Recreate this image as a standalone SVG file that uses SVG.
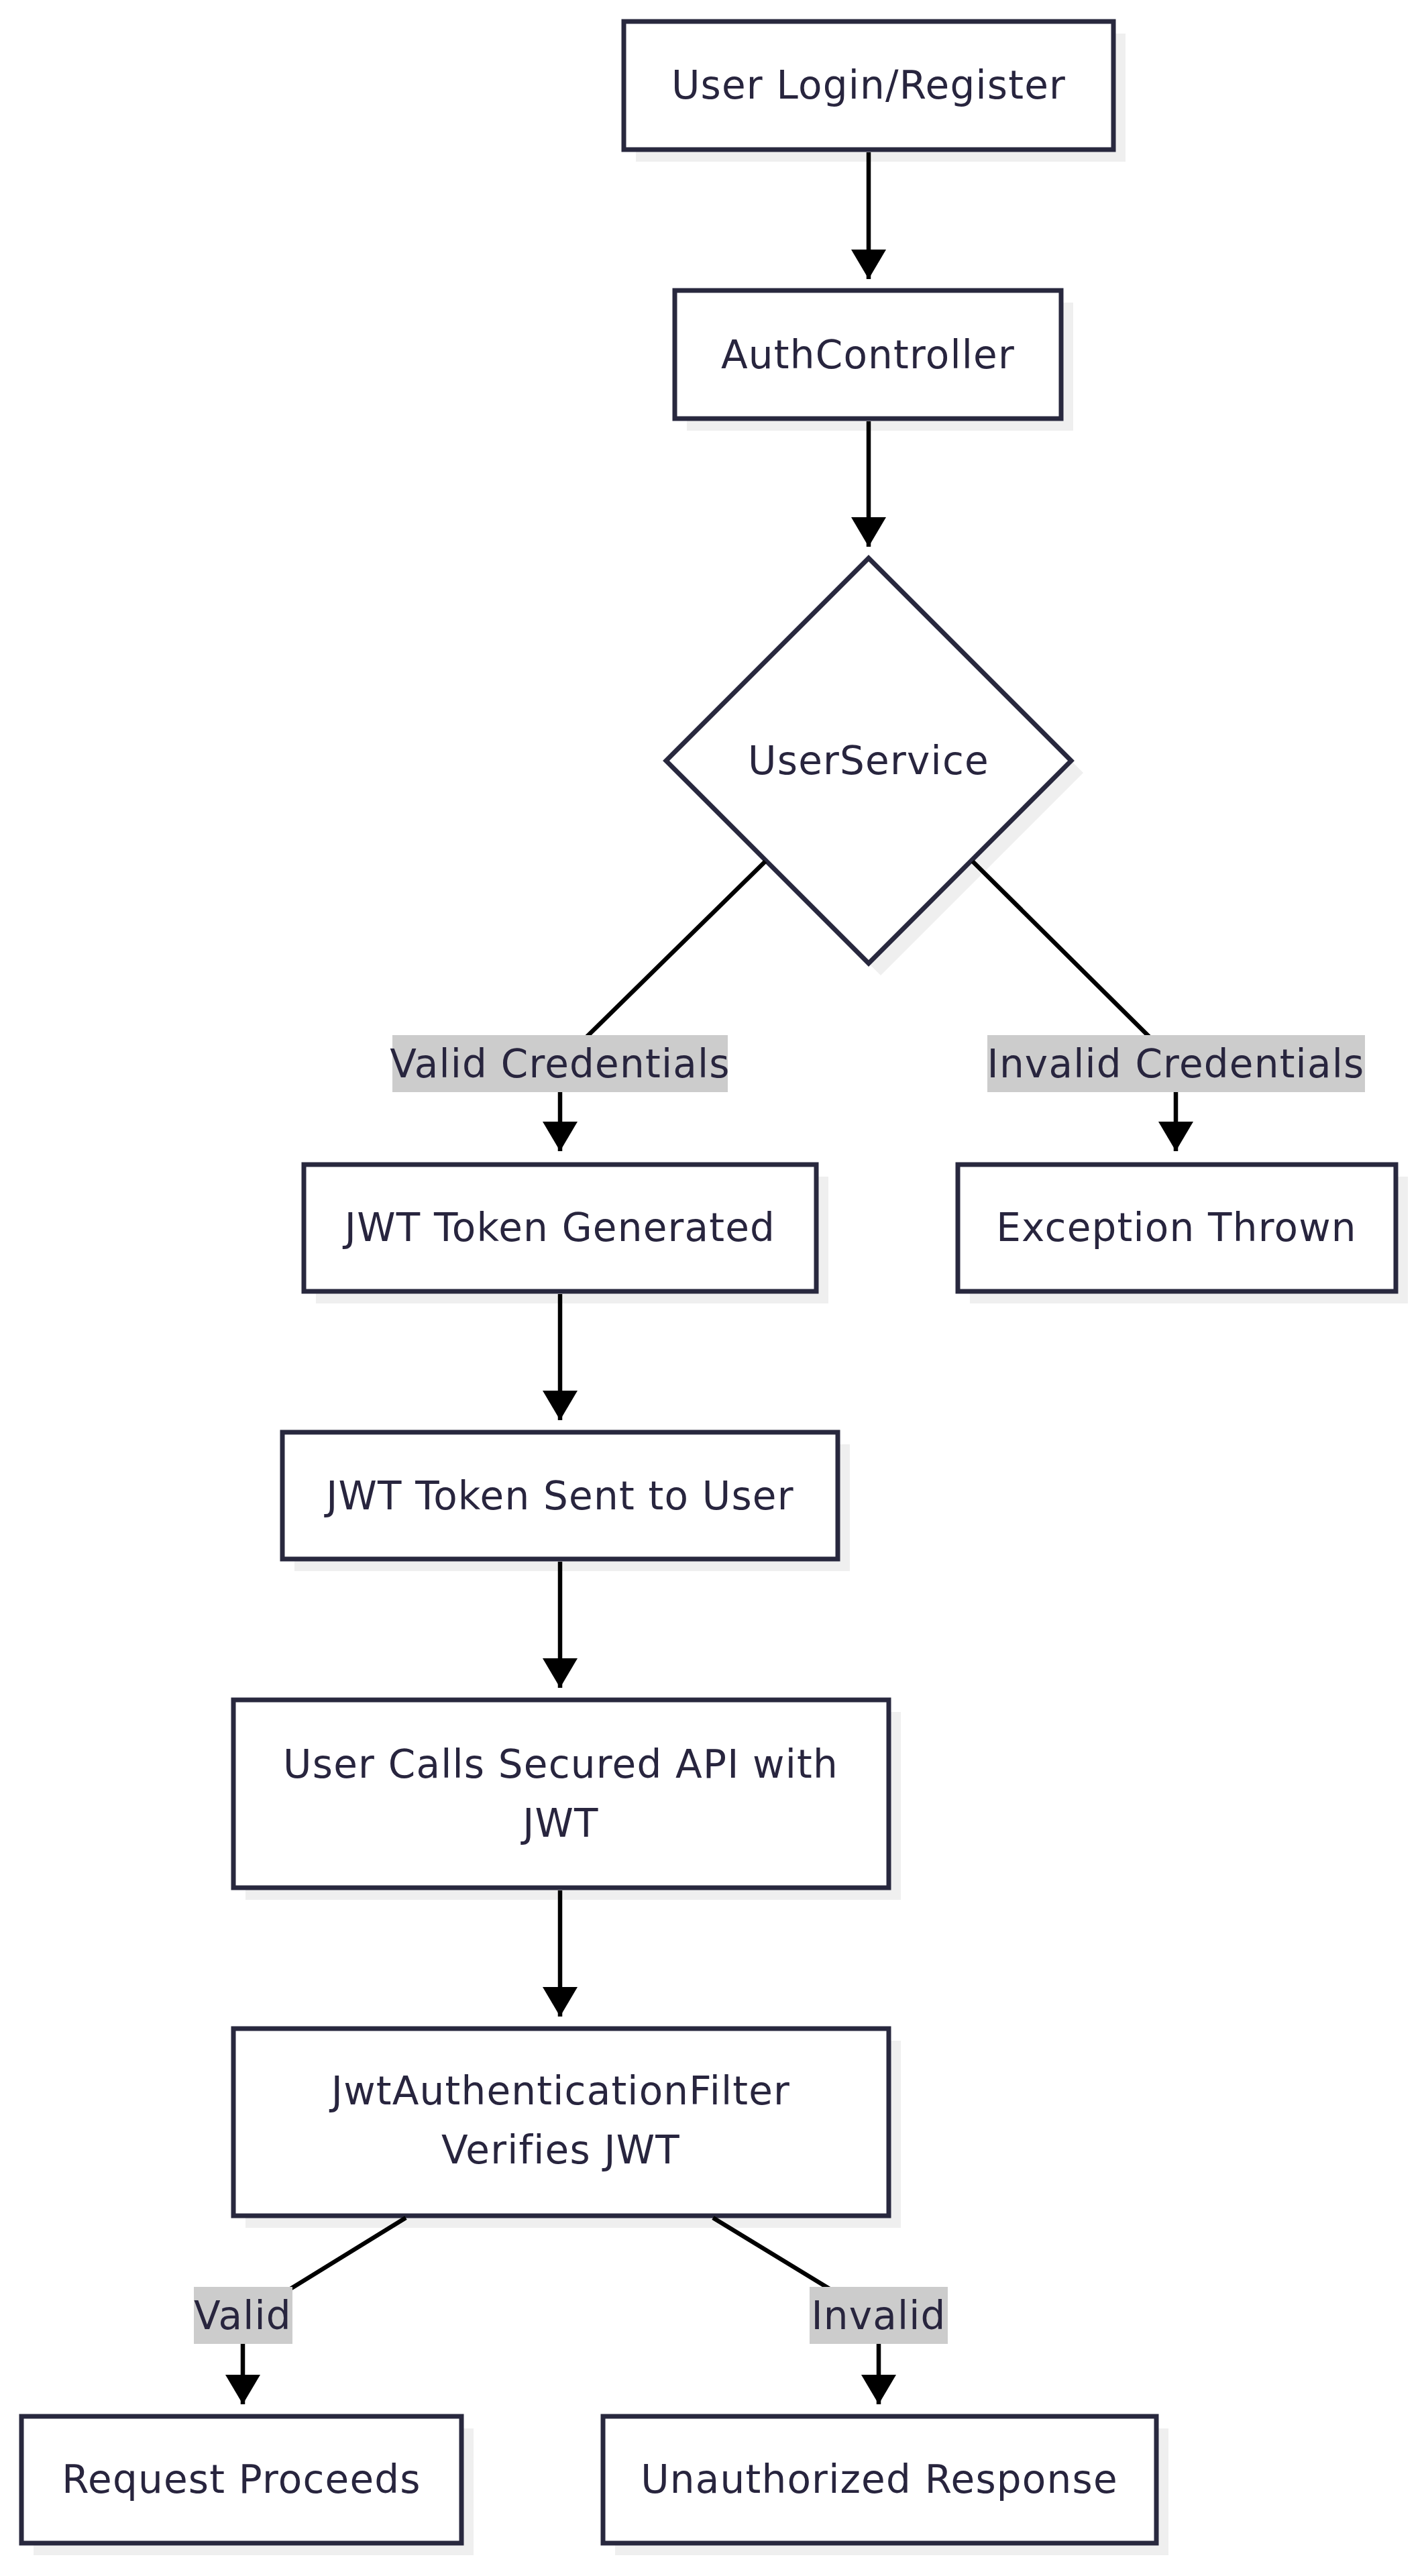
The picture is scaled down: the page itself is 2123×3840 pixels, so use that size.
<svg xmlns="http://www.w3.org/2000/svg" width="2123" height="3840" viewBox="0 0 2123 3840">
<defs>
<style>
.shadow{fill:#efefef;stroke:none}
.node{fill:#ffffff;stroke:#28283e;stroke-width:7}
.lbl{font-family:"DejaVu Sans",sans-serif;font-size:58px;fill:#28253e;text-anchor:middle;letter-spacing:1.2px}
.elbg{fill:#cccccc;stroke:none}
.edge{fill:none;stroke:#000000;stroke-width:6.5}
</style>
<marker id="arrow" markerUnits="userSpaceOnUse" viewBox="0 0 44 52" refX="44" refY="26" markerWidth="44" markerHeight="52" orient="auto">
<path d="M0,0 L44,26 L0,52 z" fill="#000000"/>
</marker>
</defs>
<rect width="2123" height="3840" fill="#ffffff"/>
<g id="node-login">
<rect class="shadow" x="948" y="50" width="730" height="191"/>
<rect class="node" x="930" y="32" width="730" height="191"/>
<text class="lbl" x="1295" y="147">User Login/Register</text>
</g>
<g id="node-authcontroller">
<rect class="shadow" x="1024" y="451" width="576" height="191"/>
<rect class="node" x="1006" y="433" width="576" height="191"/>
<text class="lbl" x="1294" y="549">AuthController</text>
</g>
<g id="node-userservice">
<polygon class="shadow" points="1313,850 1615,1152 1313,1454 1011,1152"/>
<polygon class="node" points="1295,832 1597,1134 1295,1436 993,1134"/>
<text class="lbl" x="1295" y="1154">UserService</text>
</g>
<g id="node-jwt-generated">
<rect class="shadow" x="471" y="1754" width="764" height="189"/>
<rect class="node" x="453" y="1736" width="764" height="189"/>
<text class="lbl" x="835" y="1850">JWT Token Generated</text>
</g>
<g id="node-exception">
<rect class="shadow" x="1446" y="1754" width="653" height="189"/>
<rect class="node" x="1428" y="1736" width="653" height="189"/>
<text class="lbl" x="1754" y="1850">Exception Thrown</text>
</g>
<g id="node-jwt-sent">
<rect class="shadow" x="439" y="2153" width="828" height="189"/>
<rect class="node" x="421" y="2135" width="828" height="189"/>
<text class="lbl" x="835" y="2250">JWT Token Sent to User</text>
</g>
<g id="node-secured-api">
<rect class="shadow" x="366" y="2552" width="977" height="280"/>
<rect class="node" x="348" y="2534" width="977" height="280"/>
<text class="lbl" x="836" y="2650">User Calls Secured API with</text>
<text class="lbl" x="836" y="2738">JWT</text>
</g>
<g id="node-jwt-filter">
<rect class="shadow" x="366" y="3042" width="977" height="279"/>
<rect class="node" x="348" y="3024" width="977" height="279"/>
<text class="lbl" x="836" y="3137">JwtAuthenticationFilter</text>
<text class="lbl" x="836" y="3225">Verifies JWT</text>
</g>
<g id="node-request-proceeds">
<rect class="shadow" x="50" y="3620" width="656" height="189"/>
<rect class="node" x="32" y="3602" width="656" height="189"/>
<text class="lbl" x="360" y="3716">Request Proceeds</text>
</g>
<g id="node-unauthorized">
<rect class="shadow" x="917" y="3620" width="825" height="189"/>
<rect class="node" x="899" y="3602" width="825" height="189"/>
<text class="lbl" x="1311" y="3716">Unauthorized Response</text>
</g>
<g id="connectors">
<path class="edge" d="M1295,227 L1295,416" marker-end="url(#arrow)"/>
<path class="edge" d="M1295,628 L1295,815" marker-end="url(#arrow)"/>
<path class="edge" d="M1141,1284 L862,1558 Q835,1585 835,1620 L835,1716" marker-end="url(#arrow)"/>
<path class="edge" d="M1450,1284 L1726,1558 Q1753,1585 1753,1620 L1753,1716" marker-end="url(#arrow)"/>
<path class="edge" d="M835,1929 L835,2117" marker-end="url(#arrow)"/>
<path class="edge" d="M835,2328 L835,2516" marker-end="url(#arrow)"/>
<path class="edge" d="M835,2818 L835,3006" marker-end="url(#arrow)"/>
<path class="edge" d="M605,3306 L420,3420 Q362,3451 362,3490 L362,3584" marker-end="url(#arrow)"/>
<path class="edge" d="M1063,3306 L1250,3420 Q1310,3451 1310,3490 L1310,3584" marker-end="url(#arrow)"/>
</g>
<g id="label-valid-credentials">
<rect class="elbg" x="585" y="1543" width="500" height="85"/>
<text class="lbl" x="835" y="1606">Valid Credentials</text>
</g>
<g id="label-invalid-credentials">
<rect class="elbg" x="1472" y="1543" width="563" height="85"/>
<text class="lbl" x="1753" y="1606">Invalid Credentials</text>
</g>
<g id="label-valid">
<rect class="elbg" x="289" y="3409" width="147" height="85"/>
<text class="lbl" x="362" y="3472">Valid</text>
</g>
<g id="label-invalid">
<rect class="elbg" x="1207" y="3409" width="206" height="85"/>
<text class="lbl" x="1310" y="3472">Invalid</text>
</g>
</svg>
